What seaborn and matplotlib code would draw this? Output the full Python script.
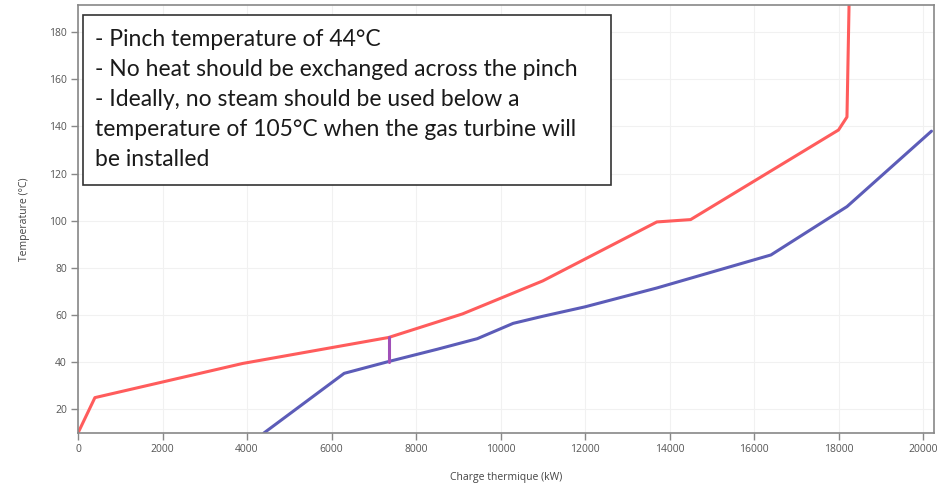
import matplotlib
matplotlib.use("Agg")
import matplotlib.pyplot as plt
import seaborn as sns
import pandas as pd
from matplotlib.patches import Rectangle

# Hot composite curve (kW, °C)
hot_q = [0, 400, 3900, 7350, 9100, 11000, 13700, 14500, 18000, 18200, 18250]
hot_t = [10, 25, 39.5, 50.5, 60.5, 74.5, 99.5, 100.5, 138.5, 144, 192]
# Cold composite curve
cold_q = [4400, 6300, 7350, 8500, 9450, 10300, 11000, 12000, 13700, 16400, 18200, 20200]
cold_t = [10, 35.3, 40.3, 45.5, 50, 56.5, 59.5, 63.5, 71.5, 85.5, 106, 138]
# Pinch marker
pinch_q = [7350, 7350]
pinch_t = [40.3, 50.5]

notes = ["- Pinch temperature of 44°C",
         "- No heat should be exchanged across the pinch",
         "- Ideally, no steam should be used below a",
         "temperature of 105°C when the gas turbine will",
         "be installed"]

xticks = list(range(0, 20001, 2000))
yticks = list(range(20, 181, 20))

sns.set_theme(style="white")
plt.rcParams['font.family'] = ['Open Sans', 'DejaVu Sans']

df = pd.concat([
    pd.DataFrame({"q": hot_q, "t": hot_t, "curve": "hot"}),
    pd.DataFrame({"q": cold_q, "t": cold_t, "curve": "cold"}),
])

fig = plt.figure(figsize=(9.46, 4.88), dpi=100)
ax = fig.add_axes([78/946, 55/488, (934-78)/946, (433-5)/488])

sns.lineplot(data=df, x="q", y="t", hue="curve", sort=False, estimator=None,
             palette={"hot": "#ff5c5c", "cold": "#5c5cb8"}, linewidth=2.2,
             legend=False, ax=ax)
ax.plot(pinch_q, pinch_t, color="#a050b8", linewidth=2.2)

ax.set_xlim(0, 20260)
ax.set_ylim(10, 191.5)
ax.set_xticks(xticks)
ax.set_yticks(yticks)
ax.set_xticklabels([str(v) for v in xticks], fontsize=7.5, color="#555555")
ax.set_yticklabels([str(v) for v in yticks], fontsize=7.5, color="#555555")
ax.tick_params(axis="both", direction="out", length=5, width=1, color="#888888", pad=3)
ax.tick_params(axis="x", bottom=True)
ax.tick_params(axis="y", left=True)
ax.grid(True, color="#f1f1f1", linewidth=0.8)
for s in ax.spines.values():
    s.set_color("#888888")
    s.set_linewidth(1.2)
ax.set_xlabel("Charge thermique (kW)", fontsize=7.5, color="#444444", labelpad=12)
ax.set_ylabel("Temperature (°C)", fontsize=7.5, color="#444444", labelpad=14)

# Annotation box
fig.patches.append(Rectangle((83/946, 1-185/488), (611-83)/946, (185-15)/488,
                             transform=fig.transFigure, facecolor="white",
                             edgecolor="#333333", linewidth=1.2, zorder=5))
line_y = [39, 70, 100, 130, 159]
for txt, yy in zip(notes, line_y):
    fig.text(95/946, 1-yy/488, txt, fontsize=16.5, color="#1a1a1a",
             family=['Lato', 'DejaVu Sans'],
             va="center", ha="left", zorder=6)

fig.savefig("out.png", dpi=100)
